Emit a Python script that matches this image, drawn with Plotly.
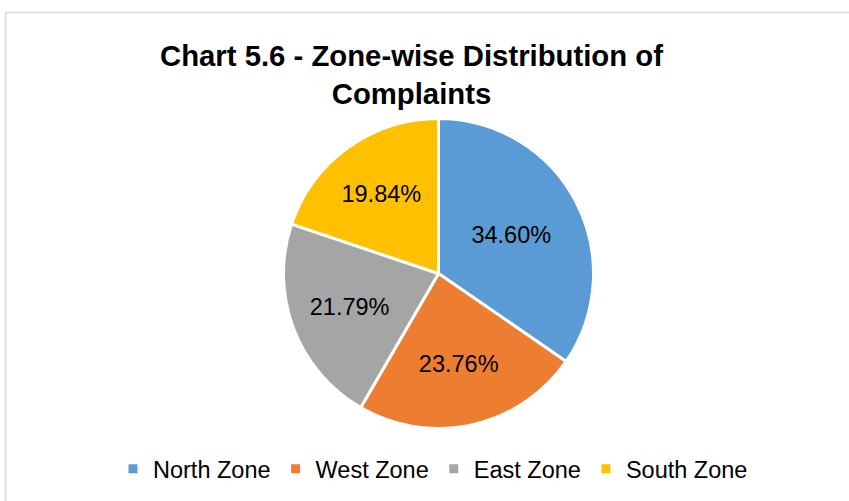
import plotly.graph_objects as go

zones = ["North Zone", "West Zone", "East Zone", "South Zone"]
shares = [34.60, 23.76, 21.79, 19.84]
colors = ["#5B9BD5", "#ED7D31", "#A5A5A5", "#FFC000"]
title_lines = ["Chart 5.6 - Zone-wise Distribution of", "Complaints"]

W, H = 849, 501
cx, cy, r = 438.5, 273.5, 155

fig = go.Figure(go.Pie(
    labels=zones,
    values=shares,
    sort=False,
    direction="clockwise",
    rotation=0,
    marker=dict(colors=colors, line=dict(color="white", width=3)),
    texttemplate="%{value:.2f}%",
    textposition="inside",
    insidetextorientation="horizontal",
    textfont=dict(family="Liberation Sans, Arial", size=23.5, color="black"),
    hoverinfo="label+percent",
    domain=dict(x=[(cx - r) / W, (cx + r) / W], y=[(H - cy - r) / H, (H - cy + r) / H]),
))

fig.update_layout(
    width=W, height=H,
    margin=dict(l=0, r=0, t=0, b=0),
    paper_bgcolor="white",
    plot_bgcolor="white",
    font=dict(family="Liberation Sans, Arial", color="black"),
    showlegend=True,
    legend=dict(
        orientation="h",
        x=433 / W, xanchor="center",
        y=1 - 469 / H, yanchor="middle",
        font=dict(size=23.5, color="black"),
        traceorder="normal",
    ),
    annotations=[dict(
        text="<br>".join("<b>" + t + "</b>" for t in title_lines),
        x=411 / W, y=1 - 75 / H, xref="paper", yref="paper",
        xanchor="center", yanchor="middle",
        showarrow=False,
        font=dict(family="Liberation Sans, Arial", size=29.3, color="black"),
    )],
    shapes=[dict(
        type="rect", xref="paper", yref="paper",
        x0=5.5 / W, x1=1.02, y0=-0.02, y1=1 - 12.5 / H,
        line=dict(color="#D9D9D9", width=1.5),
    )],
)

fig.write_html("out.html", config={"displayModeBar": False},
               post_script="document.body.style.margin='0';")
